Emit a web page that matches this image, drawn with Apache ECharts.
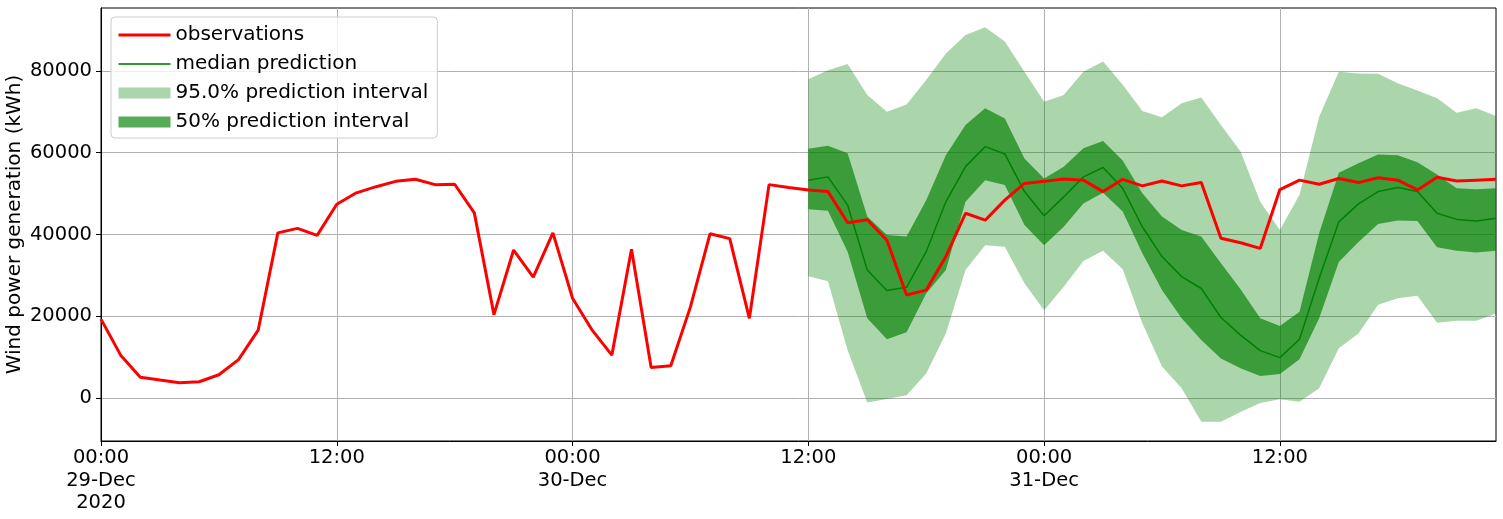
<!DOCTYPE html>
<html><head><meta charset="utf-8">
<script src="https://cdn.jsdelivr.net/npm/echarts@6/dist/echarts.min.js"></script>
<style>html,body{margin:0;padding:0;background:#fff}#c{width:1503px;height:519px}</style>
</head><body><div id="c"></div>
<script>
// hourly categories 29-Dec-2020 00:00 .. 31-Dec-2020 23:00
const dayNames = ['29-Dec', '30-Dec', '31-Dec'];
const timeCategories = [];
for (const d of dayNames) for (let h = 0; h < 24; h++) timeCategories.push(d + ' ' + String(h).padStart(2, '0') + ':00');

const xTickIndex = [0, 12, 24, 36, 48, 60];
const xTickLabels = ['00:00\n29-Dec\n2020', '12:00', '00:00\n30-Dec', '12:00', '00:00\n31-Dec', '12:00'];
const yTickValues = [0, 20000, 40000, 60000, 80000];

const observations = [
  19300, 10500, 5100, 4400, 3750, 4000, 5700, 9400, 16600, 40400, 41500, 39800,
  47400, 50200, 51700, 53000, 53500, 52200, 52300, 45300, 20400, 36200, 29600, 40400,
  24400, 16600, 10500, 36400, 7500, 7900, 22300, 40200, 39000, 19500, 52200, 51500,
  50900, 50500, 42900, 43600, 38600, 25200, 26400, 34600, 45200, 43500, 48400, 52500,
  53000, 53600, 53300, 50500, 53500, 51900, 53100, 51900, 52700, 39100, 38000, 36600,
  51000, 53300, 52300, 53700, 52700, 53900, 53300, 50900, 54000, 53100, 53300, 53500
];

const predStartIndex = 36; // 30-Dec 12:00
const medianPrediction = [
  53300, 54100, 47200, 31300, 26300, 27100, 35800, 48000, 56600, 61500, 59700, 50500,
  44600, 49200, 54100, 56400, 51300, 41900, 34600, 29700, 26800, 19700, 15400, 11600,
  9900, 14400, 29300, 43100, 47500, 50500, 51500, 50500, 45200, 43700, 43300, 44000
];
const lower50 = [
  46200, 45800, 35800, 19500, 14400, 16100, 25600, 31300, 48000, 53300, 52100, 42300,
  37400, 41900, 47600, 50200, 45600, 35400, 26400, 19500, 14200, 9700, 7300, 5400,
  5900, 9500, 19500, 33300, 38200, 42600, 43400, 43300, 36900, 36000, 35600, 36000
];
const upper50 = [
  61000, 61700, 59900, 44400, 39900, 39500, 48400, 59400, 66800, 70900, 68400, 58600,
  53700, 56600, 61100, 62900, 58100, 50100, 44400, 41100, 39500, 33000, 26600, 19500,
  17600, 21100, 40300, 55100, 57400, 59600, 59400, 57700, 54700, 51300, 51100, 51300
];
const lower95 = [
  29800, 28600, 11700, -1100, -200, 700, 6000, 15800, 31300, 37400, 37000, 28100,
  21500, 27200, 33500, 36000, 31500, 18300, 7700, 2400, -5800, -5800, -3400, -1200,
  -300, -900, 2400, 12200, 15800, 22800, 24400, 25000, 18400, 18900, 18900, 20700
];
const upper95 = [
  78000, 80200, 81700, 74100, 70000, 71800, 77800, 84300, 88800, 90700, 87200, 79800,
  72500, 74100, 79800, 82300, 76600, 70200, 68700, 72100, 73500, 66800, 60300, 48000,
  41100, 49700, 68800, 79800, 79400, 79300, 77000, 75200, 73300, 69800, 70900, 69000
];

const FONT = 'DejaVu Sans';
const pad = arr => new Array(predStartIndex).fill(null).concat(arr);
const diff = (a, b) => a.map((v, i) => v - b[i]);

const hiddenLine = { opacity: 0, width: 0 };
const chart = echarts.init(document.getElementById('c'), null, { renderer: 'canvas' });
chart.setOption({
  animation: false,
  backgroundColor: '#ffffff',
  textStyle: { fontFamily: FONT },
  grid: { left: 101, right: 7, top: 8, bottom: 78, containLabel: false, outerBoundsMode: 'none',
          show: true, borderColor: '#000', borderWidth: 1, backgroundColor: 'transparent' },
  legend: {
    orient: 'vertical', left: 111, top: 17,
    padding: [8, 9, 6, 6],
    itemWidth: 52, itemHeight: 11, itemGap: 9,
    backgroundColor: 'rgba(255,255,255,0.8)', borderColor: '#cccccc', borderWidth: 1, borderRadius: 4,
    textStyle: { fontFamily: FONT, fontSize: 20, color: '#000', lineHeight: 20 },
    selectedMode: false,
    data: [
      { name: 'observations', itemStyle: { opacity: 0 }, lineStyle: { width: 3, color: '#ff0000' } },
      { name: 'median prediction', itemStyle: { opacity: 0 }, lineStyle: { width: 2, color: '#2e9a2e' } },
      { name: '95.0% prediction interval', icon: 'rect', itemStyle: { color: 'rgba(0,128,0,0.33)', opacity: 1 } },
      { name: '50% prediction interval', icon: 'rect', itemStyle: { color: 'rgba(0,128,0,0.66)', opacity: 1 } }
    ]
  },
  xAxis: {
    type: 'category', data: timeCategories, boundaryGap: false,
    axisLine: { show: true, onZero: false, lineStyle: { color: '#000', width: 1 } },
    axisTick: { show: true, interval: 11, length: 5, lineStyle: { color: '#000' } },
    splitLine: { show: true, interval: 11, lineStyle: { color: '#b0b0b0', width: 1 } },
    axisLabel: {
      interval: 11, margin: 6, color: '#000', fontFamily: FONT, fontSize: 19.5, lineHeight: 22.5,
      formatter: (v, idx) => { const k = xTickIndex.indexOf(idx); return k >= 0 ? xTickLabels[k] : ''; }
    }
  },
  yAxis: {
    type: 'value', min: -10500, max: 95400,
    name: 'Wind power generation (kWh)', nameLocation: 'middle', nameGap: 76, nameMoveOverlap: false,
    nameTextStyle: { fontFamily: FONT, fontSize: 20, color: '#000' },
    axisLine: { show: true, onZero: false, lineStyle: { color: '#000' } },
    axisTick: { show: true, length: 5, customValues: yTickValues, lineStyle: { color: '#000' } },
    splitLine: { show: true, lineStyle: { color: '#b0b0b0', width: 1 } },
    axisLabel: { customValues: yTickValues, margin: 9, color: '#000', fontFamily: FONT, fontSize: 19.5, formatter: v => String(v) }
  },
  series: [
    { name: 'lo95', type: 'line', data: pad(lower95), stack: 'p95', stackStrategy: 'all', symbol: 'none', lineStyle: hiddenLine, silent: true, z: 1 },
    { name: '95.0% prediction interval', type: 'line', data: pad(diff(upper95, lower95)), stack: 'p95', stackStrategy: 'all', symbol: 'none',
      color: 'rgba(0,128,0,0.33)', lineStyle: hiddenLine, areaStyle: { color: 'rgba(0,128,0,0.33)', opacity: 1 }, silent: true, z: 1 },
    { name: 'lo50', type: 'line', data: pad(lower50), stack: 'p50', stackStrategy: 'all', symbol: 'none', lineStyle: hiddenLine, silent: true, z: 2 },
    { name: '50% prediction interval', type: 'line', data: pad(diff(upper50, lower50)), stack: 'p50', stackStrategy: 'all', symbol: 'none',
      color: 'rgba(0,128,0,0.66)', lineStyle: hiddenLine, areaStyle: { color: 'rgba(0,128,0,0.66)', opacity: 1 }, silent: true, z: 2 },
    { name: 'median prediction', type: 'line', data: pad(medianPrediction), symbol: 'none', color: '#008000',
      lineStyle: { color: '#008000', width: 1.5 }, silent: true, z: 3 },
    { name: 'observations', type: 'line', data: observations, symbol: 'none', color: '#ff0000',
      lineStyle: { color: '#ff0000', width: 3 }, silent: true, z: 4 }
  ]
});
</script></body></html>
